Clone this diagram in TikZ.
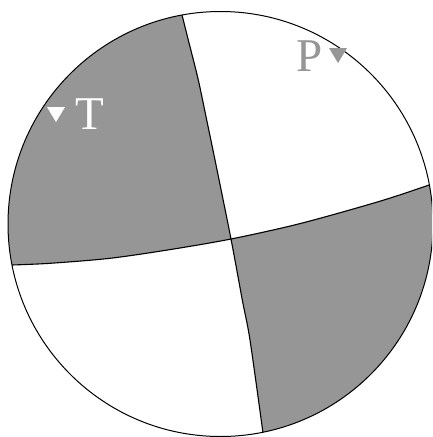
\documentclass[tikz,border=0pt]{standalone}
\usepackage{fontspec}
\setmainfont{Liberation Serif}
\definecolor{quad}{RGB}{150,150,150}
\begin{document}
\begin{tikzpicture}[x=1pt,y=-1pt,
  nodal/.style={draw=black,line width=1.1pt},
  lbl/.style={inner sep=0pt,font=\fontsize{47}{47}\selectfont},
  tri/.style={draw=none}]
\useasboundingbox (0,0) rectangle (432,437);
\clip (0,0) rectangle (432,437);
\coordinate (c) at (220.5,224);
\coordinate (x) at (231,239);
\begin{scope}
\clip (c) circle[radius=212.5];
\fill[white] (c) circle[radius=212.5];
% upper-left quadrant
\fill[quad] plot[smooth] coordinates {(182,15) (188.3,40) (198.3,80) (206.7,120) (215,160) (231,239)}
  -- plot[smooth] coordinates {(231,239) (170,249.6) (110,258.3) (50,263.3) (12,265)}
  -- (-40,268) -- (-40,-40) -- (170,-40) -- cycle;
% lower-right quadrant
\fill[quad] plot[smooth] coordinates {(231,239) (300,223.6) (380,201.2) (432,184)}
  -- (480,170) -- (480,480) -- (270,480) -- (263,433)
  -- plot[smooth] coordinates {(263,433) (250,340) (242.3,300) (231,239)} -- cycle;
% nodal planes
\draw[nodal] plot[smooth] coordinates {(182,15) (188.3,40) (198.3,80) (206.7,120) (215,160) (231,239) (242.3,300) (250,340) (263,433)};
\draw[nodal] plot[smooth] coordinates {(12,265) (50,263.3) (110,258.3) (170,249.6) (231,239) (300,223.6) (380,201.2) (432,184)};
\end{scope}
\draw[black,line width=1pt] (c) circle[radius=212.5];
% T axis
\fill[white] (47,107) -- (65,107) -- (56,122) -- cycle;
\node[lbl,text=white] (T) at (89.5,114) {T};
% P axis
\fill[quad] (329,48) -- (347,48) -- (338,63) -- cycle;
\node[lbl,text=quad] (P) at (310,56) {P};
\end{tikzpicture}
\end{document}
